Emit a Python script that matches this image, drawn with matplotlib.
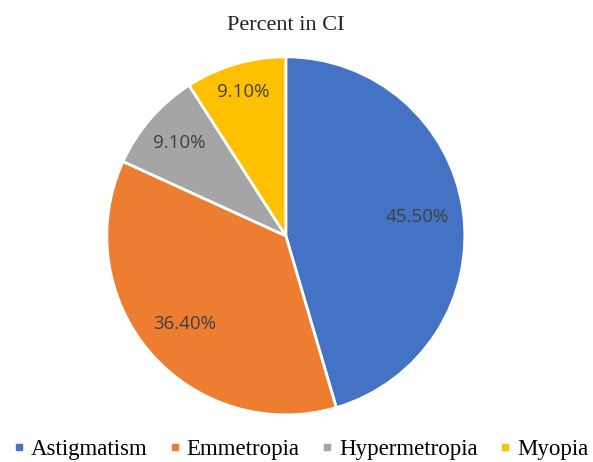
import matplotlib
matplotlib.use('Agg')
from matplotlib import pyplot as plt
from matplotlib.lines import Line2D
import numpy as np

labels = ['Astigmatism', 'Emmetropia', 'Hypermetropia', 'Myopia']
values = [45.5, 36.4, 9.1, 9.1]
pct_text = ['45.50%', '36.40%', '9.10%', '9.10%']
colors = ['#4472C4', '#ED7D31', '#A5A5A5', '#FFC000']

fig = plt.figure(figsize=(5.93, 4.62), dpi=100)
ax = fig.add_axes([0.180, 0.102, 0.604, 0.775])

wedges, texts = ax.pie(values, colors=colors, startangle=90, counterclock=False,
                       wedgeprops=dict(edgecolor='white', linewidth=2))
ax.set_xlim(-1, 1)
ax.set_ylim(-1, 1)
ax.set_aspect('equal')

# put the labels like excel does, small slices pushed out a bit
dist = [0.74, 0.75, 0.79, 0.84]
for w, t, d in zip(wedges, pct_text, dist):
    ang = np.deg2rad((w.theta1 + w.theta2) / 2)
    ax.text(d * np.cos(ang), d * np.sin(ang), t, ha='center', va='center',
            fontsize=13.5, color='#404040', family='Open Sans')

fig.text(0.482, 0.945, 'Percent in CI', ha='center', va='center',
         fontsize=16, family='Liberation Serif', color='#222222')

handles = [Line2D([], [], marker='s', linestyle='', color=c, markersize=5) for c in colors]
fig.legend(handles, labels, loc='center', bbox_to_anchor=(0.508, 0.028), ncol=4,
           frameon=False, handlelength=0.4, handletextpad=0.3, columnspacing=1.02,
           borderaxespad=0, borderpad=0,
           prop={'family': 'Liberation Serif', 'size': 16.5})

fig.savefig('out.png', dpi=100)
